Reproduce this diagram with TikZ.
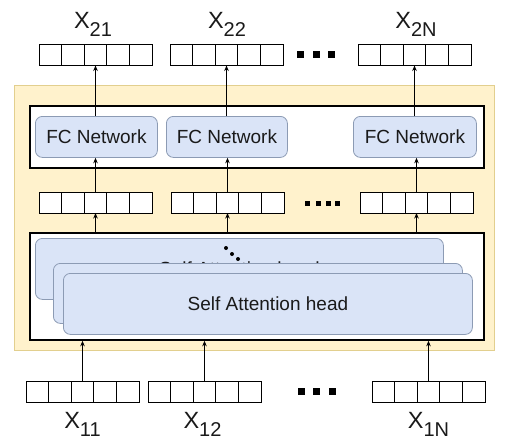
\documentclass[tikz,border=0pt]{standalone}
\usepackage{fontspec}
\setmainfont{Liberation Sans}
\usetikzlibrary{arrows.meta}
\definecolor{ylwfill}{HTML}{FFF2CC}
\definecolor{ylwdraw}{HTML}{E2CF8E}
\definecolor{bluefill}{HTML}{DAE4F7}
\definecolor{bluedraw}{HTML}{8C9BB4}
\definecolor{txt}{HTML}{1A1A1A}
\tikzset{
  cell/.style={draw=black, line width=1pt, fill=white, minimum width=22.6pt, minimum height=21pt, inner sep=0pt, outer sep=0pt},
  outerbox/.style={draw=black, line width=1.8pt, fill=white, inner sep=0pt, anchor=north west},
  bluebox/.style={draw=bluedraw, fill=bluefill, rounded corners=7pt, line width=0.8pt, inner sep=0pt, anchor=north west, text=txt, font=\fontsize{19}{19}\selectfont},
  arr/.style={-{Stealth[length=5.5pt,width=4.5pt]}, line width=1.1pt},
  lbl/.style={font=\fontsize{23.5}{23.5}\selectfont, inner sep=0pt, anchor=base, text=txt},
  bigdot/.style={fill=black, inner sep=0pt, minimum size=7pt},
  smalldot/.style={fill=black, inner sep=0pt, minimum size=5pt},
  rdot/.style={circle, fill=black, inner sep=0pt, minimum size=4pt}
}
\newcommand{\sublbl}[1]{\raisebox{-8pt}{\fontsize{20}{20}\selectfont #1}}
\begin{document}
\begin{tikzpicture}[x=1pt,y=-1pt]
\useasboundingbox (0,0) rectangle (506,447);
% background
\node[draw=ylwdraw, fill=ylwfill, line width=0.8pt, inner sep=0pt, anchor=north west, minimum width=480pt, minimum height=265pt] (bg) at (14,85) {};
% FC layer
\node[outerbox, minimum width=454pt, minimum height=62pt] (fcbox) at (29,105) {};
\node[bluebox, minimum width=122pt, minimum height=41pt] (fc1) at (35,116) {FC Network};
\node[bluebox, minimum width=121pt, minimum height=41pt] (fc2) at (166,116) {FC Network};
\node[bluebox, minimum width=123pt, minimum height=41pt] (fc3) at (353,116) {FC Network};
% attention layer
\node[outerbox, minimum width=454pt, minimum height=107pt] (att) at (29,232) {};
\node[bluebox, minimum width=408pt, minimum height=61pt] (h1) at (35,238) {Self Attention head};
\node[rdot] (d1) at (226,248) {};
\node[rdot] (d2) at (232,254) {};
\node[rdot] (d3) at (238,259) {};
\node[bluebox, minimum width=409pt, minimum height=60pt] (h2) at (53,263) {};
\node[bluebox, minimum width=409pt, minimum height=61pt] (h3) at (63,273) {Self Attention head};
% vectors
\foreach \v/\xl/\yc in {t1/39/55, t2/170/55, t3/358/55, m1/39/202.5, m2/171/202.5, m3/360/202.5, b1/26/391.5, b2/148/391.5, b3/372/391.5}{
  \foreach \i in {1,...,5}{
    \node[cell] (\v-\i) at ({\xl+(\i-0.5)*22.6},\yc) {};
  }
}
% ellipses
\node[bigdot] (td1) at (300.5,54) {};
\node[bigdot] (td2) at (316,54) {};
\node[bigdot] (td3) at (331.5,54) {};
\node[smalldot] (md1) at (307,203) {};
\node[smalldot] (md2) at (318,203) {};
\node[smalldot] (md3) at (328,203) {};
\node[smalldot] (md4) at (337.5,203) {};
\node[bigdot] (bd1) at (301,391.5) {};
\node[bigdot] (bd2) at (316,391.5) {};
\node[bigdot] (bd3) at (332.5,391.5) {};
% labels
\node[lbl] (x21) at (93,28) {X\sublbl{21}};
\node[lbl] (x22) at (227,28) {X\sublbl{22}};
\node[lbl] (x2n) at (416,28) {X\sublbl{2N}};
\node[lbl] (x11) at (82.5,428) {X\sublbl{11}};
\node[lbl] (x12) at (202.5,428) {X\sublbl{12}};
\node[lbl] (x1n) at (428.5,428) {X\sublbl{1N}};
% arrows
\foreach \k in {1,2,3}{
  \draw[arr] (b\k-3.north) -- (b\k-3.north |- att.south);
  \draw[arr] (m\k-3.south |- att.north) -- (m\k-3.south);
  \draw[arr] (m\k-3.north) -- (m\k-3.north |- fc\k.south);
  \draw[arr] (t\k-3.south |- fc\k.north) -- (t\k-3.south);
}
\end{tikzpicture}
\end{document}
